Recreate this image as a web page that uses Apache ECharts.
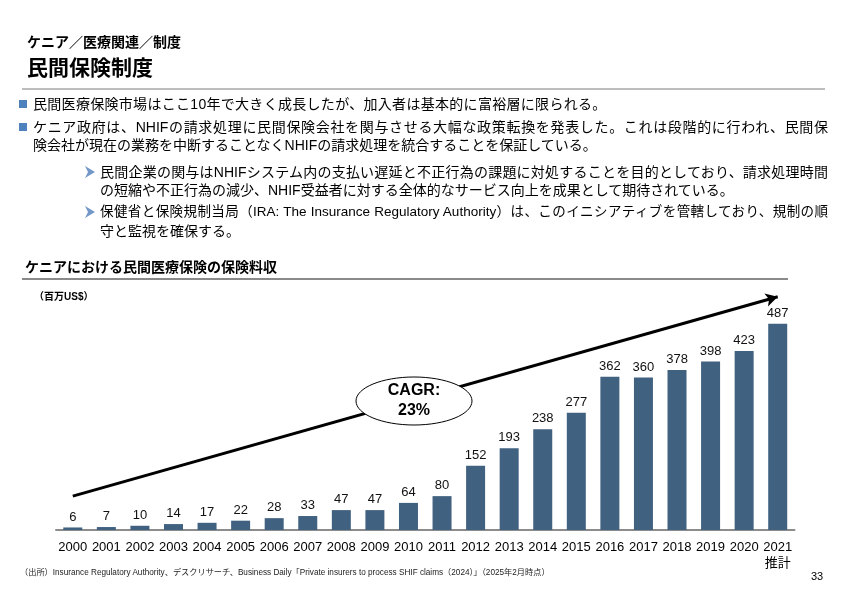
<!DOCTYPE html>
<html><head><meta charset="utf-8">
<script src="https://cdn.jsdelivr.net/npm/echarts@6/dist/echarts.min.js"></script>
<style>
html,body{margin:0;padding:0;background:#fff;}
body{width:842px;height:595px;position:relative;overflow:hidden;font-family:'Liberation Sans','Noto Sans CJK JP',sans-serif;color:#000;}
#main{position:absolute;left:0;top:0;width:842px;height:595px;}
.t{position:absolute;white-space:nowrap;z-index:5;}
.b{font-size:14px;line-height:18px;}
.j{text-align:justify;text-align-last:justify;white-space:normal;}
.sq{position:absolute;width:8px;height:8px;background:#4F81BD;z-index:5;}
.ar{position:absolute;z-index:5;}
.hl{position:absolute;z-index:5;}
.n{font-family:'Liberation Sans Narrow','Liberation Sans','Noto Sans CJK JP',sans-serif;}
</style></head>
<body>
<div id="main"></div>
<div class="t" style="left:27px;top:33px;font-size:14px;font-weight:bold;line-height:18px;">ケニア／医療関連／制度</div>
<div class="t" style="left:27px;top:55px;font-size:21px;font-weight:bold;line-height:26px;">民間保険制度</div>
<div class="hl" style="left:22px;top:88px;width:803px;height:2px;background:#bdbdbd;"></div>

<div class="sq" style="left:19px;top:100px;"></div>
<div class="t b" style="left:33px;top:95px;letter-spacing:0.3px;">民間医療保険市場はここ10年で大きく成長したが、加入者は基本的に富裕層に限られる。</div>
<div class="sq" style="left:19px;top:123px;"></div>
<div class="t b j" style="left:33px;top:118px;width:795px;">ケニア政府は、NHIFの請求処理に民間保険会社を関与させる大幅な政策転換を発表した。これは段階的に行われ、民間保</div>
<div class="t b" style="left:33px;top:136px;">険会社が現在の業務を中断することなくNHIFの請求処理を統合することを保証している。</div>

<svg class="ar" style="left:85px;top:166px;" width="11" height="12"><polygon points="0,0 10,6 0,12 3,6" fill="#7397c6"/></svg>
<div class="t b j" style="left:100px;top:163px;width:728px;">民間企業の関与はNHIFシステム内の支払い遅延と不正行為の課題に対処することを目的としており、請求処理時間</div>
<div class="t b" style="left:100px;top:181px;">の短縮や不正行為の減少、NHIF受益者に対する全体的なサービス向上を成果として期待されている。</div>
<svg class="ar" style="left:85px;top:206px;" width="11" height="12"><polygon points="0,0 10,6 0,12 3,6" fill="#7397c6"/></svg>
<div class="t b j" style="left:100px;top:203px;width:728px;font-size:13.5px;">保健省と保険規制当局（<span class="n">IRA: The Insurance Regulatory Authority</span>）は、このイニシアティブを管轄しており、規制の順</div>
<div class="t b" style="left:100px;top:222px;">守と監視を確保する。</div>

<div class="t" style="left:25px;top:258px;font-size:14px;font-weight:bold;line-height:18px;">ケニアにおける民間医療保険の保険料収</div>
<div class="hl" style="left:22px;top:278px;width:766px;height:2px;background:#8a8a8a;"></div>
<div class="t" style="left:34px;top:291px;font-size:10px;font-weight:bold;line-height:12px;">（百万US$）</div>

<div class="t" style="left:20px;top:568px;font-size:8.2px;line-height:10px;color:#222;">（出所）Insurance Regulatory Authority、デスクリサーチ、Business Daily「Private insurers to process SHIF claims（2024）」（2025年2月時点）</div>
<div class="t" style="left:811px;top:570px;font-size:11px;line-height:13px;">33</div>

<script>
var years = ['2000','2001','2002','2003','2004','2005','2006','2007','2008','2009','2010','2011','2012','2013','2014','2015','2016','2017','2018','2019','2020','2021'];
var yearLabels = ['2000','2001','2002','2003','2004','2005','2006','2007','2008','2009','2010','2011','2012','2013','2014','2015','2016','2017','2018','2019','2020','2021\n推計'];
var premiums = [6,7,10,14,17,22,28,33,47,47,64,80,152,193,238,277,362,360,378,398,423,487];
var trendStart = 80;
var trendEnd = 551;
var cagrText = 'CAGR:\n23%';

var FONT = "'Liberation Sans','Noto Sans CJK JP',sans-serif";
var chart = echarts.init(document.getElementById('main'), null, {renderer:'canvas'});
chart.setOption({
  animation:false,
  grid:{left:56, right:47.5, top:276, bottom:65, containLabel:false},
  xAxis:{
    type:'category', data:yearLabels,
    axisLine:{show:true, lineStyle:{color:'#8c8c8c', width:2}},
    axisTick:{show:false},
    axisLabel:{interval:0, color:'#000', fontSize:13, fontFamily:FONT, margin:9, lineHeight:16}
  },
  yAxis:{type:'value', min:0, max:600, show:false, splitLine:{show:false}},
  series:[{
    type:'bar', data:premiums, barWidth:19,
    itemStyle:{color:'#40617f'},
    label:{show:true, position:'top', distance:4, color:'#111', fontSize:13, fontFamily:FONT},
    markLine:{
      silent:true, symbol:['none','arrow'], symbolSize:[10,12],
      label:{show:false},
      lineStyle:{color:'#000', width:3, type:'solid'},
      data:[[{coord:[0, trendStart]},{coord:[21, trendEnd]}]]
    },
    z:2
  }],
  graphic:[
    {type:'ellipse', z:100, shape:{cx:414, cy:401, rx:58, ry:24},
     style:{fill:'#fff', stroke:'#000', lineWidth:1}},
    {type:'text', z:101, x:414, y:401,
     style:{text:cagrText, align:'center', verticalAlign:'middle', font:"bold 16px " + FONT, fill:'#000', lineHeight:20}}
  ]
});
</script>
</body></html>
